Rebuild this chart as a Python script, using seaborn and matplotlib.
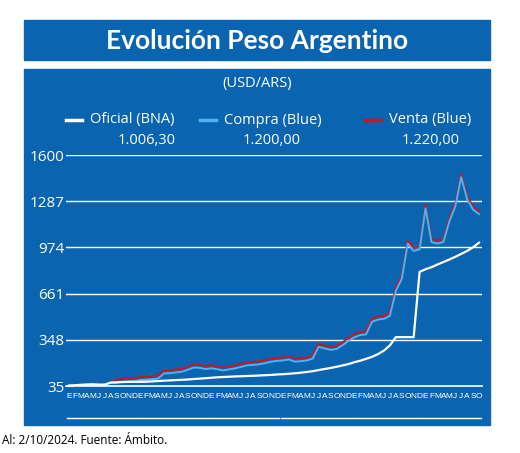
import matplotlib
matplotlib.use("Agg")
import matplotlib.pyplot as plt
import seaborn as sns
import pandas as pd
import numpy as np
from matplotlib.patches import Rectangle
from matplotlib.lines import Line2D

months = ["E","F","M","A","M","J","J","A","S","O","N","D"]
years = ["2019","2020","2021","2022","2023","2024"]
oficial = [38,40,43,45,46,44,44,58,59,62,63,63,
           63,64,66,69,71,73,75,77,79,82,85,88,
           91,94,96,98,100,101,103,104,106,108,110,113,
           115,118,121,125,130,135,143,150,157,165,174,183,
           196,206,219,233,251,275,310,366,366,366,366,808,
           826,840,858,875,892,910,930,950,975,1006]
compra = [38,40,43,45,46,44,44,58,60,63,65,67,
          75,78,81,86,120,122,127,132,145,160,158,150,
          155,148,140,148,155,165,175,178,182,190,200,205,
          208,215,200,203,208,220,300,290,280,285,310,340,
          365,380,385,470,485,490,510,680,760,1000,950,960,
          1240,1010,1000,1010,1150,1250,1450,1300,1230,1200]
venta = [v + 20 if i > 7 else v for i, v in enumerate(compra)]
yticks = [35, 348, 661, 974, 1287, 1600]

n = len(oficial)
df = pd.DataFrame({"t": np.arange(n), "Oficial": oficial, "Compra": compra, "Venta": venta})

BLUE = "#0a64b0"
W, H = 520, 453
fig = plt.figure(figsize=(W/100, H/100), dpi=100)
bg = fig.add_axes([0, 0, 1, 1], zorder=-5)
bg.set_xlim(0, W); bg.set_ylim(H, 0); bg.axis("off")
bg.add_patch(Rectangle((24, 20), 466, 40, color=BLUE))
bg.add_patch(Rectangle((24, 69), 466, 356, color=BLUE))
fig.text(257/W, 1-41/H, "Evolución Peso Argentino", ha="center", va="center", color="white",
         fontsize=19, fontweight="bold", family="Lato")
fig.text(257/W, 1-83/H, "(USD/ARS)", ha="center", va="center", color="white", fontsize=10.5, family="Open Sans")

leg = [("Oficial (BNA)", "white", 66, "1.006,30"), ("Compra (Blue)", "#4fb3ee", 200, "1.200,00"),
       ("Venta (Blue)", "#d0141e", 365, "1.220,00")]
for lab, col, x0, val in leg:
    fig.add_artist(Line2D([x0/W, (x0+16)/W], [1-120/H]*2, color=col, lw=2.5, transform=fig.transFigure))
    fig.text((x0+24)/W, 1-120/H, lab, color="white", fontsize=10.5, va="center", family="Open Sans")
xs = {"1.006,30": 147, "1.200,00": 272, "1.220,00": 431}
for lab, col, x0, val in leg:
    fig.text(xs[val]/W, 1-141/H, val, color="white", fontsize=10.5, ha="center", va="center", family="Open Sans")

ax = fig.add_axes([66/W, 1-386/H, 416/W, 231/H], zorder=2)
ax.set_facecolor("none")
sns.lineplot(data=df, x="t", y="Venta", ax=ax, color="#d0141e", lw=1.4)
sns.lineplot(data=df, x="t", y="Compra", ax=ax, color="#4fb3ee", lw=1.4)
sns.lineplot(data=df, x="t", y="Oficial", ax=ax, color="white", lw=1.6)
ax.set_xlim(-0.5, n - 0.5)
ax.set_ylim(35, 1600)
ax.set_yticks(yticks)
ax.set_yticklabels([str(v) for v in yticks], color="white", fontsize=11, family="Open Sans")
for v in yticks[1:]:
    ax.axhline(v, color="white", lw=1, zorder=0)
for s in ["top", "right", "left"]:
    ax.spines[s].set_visible(False)
ax.spines["bottom"].set_color("white")
ax.spines["bottom"].set_linewidth(1.2)
ax.tick_params(axis="y", length=5, color="white", pad=1, direction="in")
ax.tick_params(axis="x", length=0, pad=5)
ax.set_xticks(np.arange(n))
ax.set_xticklabels([months[i % 12] for i in range(n)], color="white", fontsize=6, family="Liberation Sans")
ax.set_xlabel("")
ax.set_ylabel("")
trans = ax.get_xaxis_transform()
for k, y in enumerate(years):
    a = 12*k - 0.4
    b = min(12*k + 11.4, n - 0.6)
    ax.add_line(Line2D([a, b], [-0.14, -0.14], color="white", lw=1, transform=trans, clip_on=False))
    ax.text((a + b)/2, -0.21, y, transform=trans, ha="center", va="center", color="white",
            fontsize=11, family="Open Sans")
fig.text(2/W, 1-441/H, "Al: 2/10/2024. Fuente: Ámbito.", fontsize=8.5, va="center", family="Open Sans")
fig.savefig("out.png", dpi=100)
